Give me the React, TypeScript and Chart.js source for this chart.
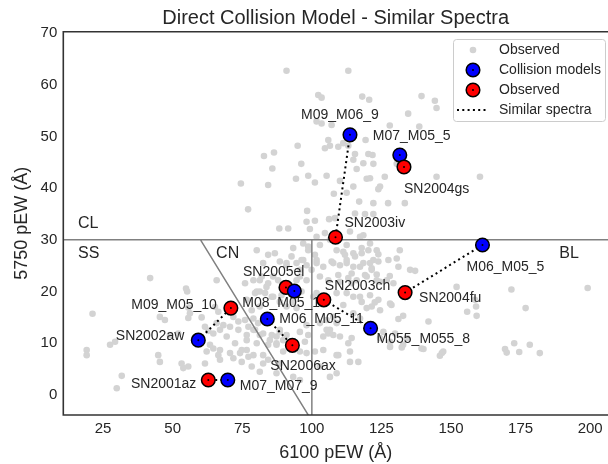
import { useEffect, useRef } from 'react';
import { Chart, registerables } from 'chart.js';

Chart.register(...registerables);

// ---- axes ----
const xTicks = [25, 50, 75, 100, 125, 150, 175, 200];
const yTicks = [0, 10, 20, 30, 40, 50, 60, 70];
const xRange = [10.7, 206.4];
const yRange = [-3.87, 70.25];

// ---- observed sample (6100 pEW, 5750 pEW) ----
const observedSample: [number, number][] = [
  [90.9, 62.7], [113.1, 62.7],
  [102.3, 58.0], [103.5, 57.5], [118.1, 57.7], [120.6, 57.1], [139.4, 57.8], [144.2, 56.9], [144.8, 55.5],
  [134.6, 54.4],
  [101.7, 52.9], [103.5, 52.5], [107.1, 52.2], [128.0, 52.1], [138.6, 51.9],
  [105.9, 49.3], [119.3, 49.3], [104.7, 47.7], [106.5, 48.2], [109.5, 48.0], [94.9, 48.2], [111.3, 48.7], [113.1, 48.2],
  [82.8, 46.2], [86.4, 46.9], [115.5, 46.6], [120.3, 46.6], [121.8, 46.4],
  [96.2, 44.7], [114.9, 45.5], [118.5, 44.8], [116.1, 43.7], [122.1, 44.7], [130.5, 44.7],
  [85.8, 43.8],
  [98.7, 42.4], [94.3, 41.8], [101.1, 41.1], [105.3, 42.4], [110.1, 41.4], [114.9, 40.3], [119.7, 41.8], [120.9, 41.9],
  [126.2, 42.2], [144.8, 42.2], [160.4, 42.2],
  [74.5, 40.9], [84.3, 40.6], [124.5, 40.3], [123.9, 39.8],
  [107.9, 38.9], [112.5, 39.1],
  [117.0, 37.4], [127.4, 37.1], [133.4, 37.1], [122.1, 37.1],
  [77.1, 35.9], [98.3, 35.6], [115.5, 35.1], [119.1, 35.0], [122.1, 35.0], [108.3, 34.2],
  [101.1, 33.7], [106.2, 34.0], [98.1, 33.5],
  [91.5, 32.2], [99.3, 32.1], [88.3, 32.2],
  [101.7, 30.6], [104.7, 31.3], [113.7, 31.6], [117.3, 30.6], [118.5, 30.9], [106.5, 30.0],
  [111.3, 27.7], [111.9, 27.1], [115.5, 26.8], [117.9, 27.4], [120.3, 28.0], [123.9, 27.2],
  [131.6, 28.0], [130.5, 26.4], [127.5, 26.1], [131.1, 24.8], [135.3, 24.2], [137.1, 24.0], [122.1, 26.1], [121.5, 24.2],
  [128.0, 23.0], [124.5, 21.9],
  [98.1, 25.1], [101.7, 25.5], [107.7, 25.5], [112.5, 25.5], [117.3, 24.8], [120.9, 25.5],
  [114.3, 23.5], [119.1, 23.2], [123.3, 23.3],
  [110.1, 21.9], [114.3, 21.6], [126.9, 22.2], [129.3, 21.6],
  [112.5, 19.7], [117.3, 19.0], [120.9, 19.3], [123.9, 18.4], [128.1, 17.7],
  [119.7, 16.8], [124.5, 16.4],
  [152.0, 20.9], [171.7, 20.4], [199.1, 20.7], [176.8, 16.8], [159.0, 17.1], [155.8, 16.1], [159.2, 15.3], [158.6, 18.4],
  [128.6, 17.4], [122.6, 17.9], [121.5, 17.1], [132.8, 15.3], [141.9, 14.2], [131.1, 14.7],
  [125.7, 12.2], [129.9, 11.9], [134.1, 11.0], [124.5, 11.0], [128.1, 10.3],
  [128.1, 9.3], [132.3, 9.2], [140.1, 8.9], [146.7, 8.1], [146.0, 7.6], [139.4, 9.0], [147.2, 8.4], [132.8, 9.7],
  [169.4, 8.9], [170.0, 8.2], [172.7, 10.0], [174.5, 8.3], [178.3, 9.7], [181.9, 8.1],
  [108.9, 13.9], [114.3, 11.0], [109.5, 7.7], [113.7, 6.4], [116.7, 6.4],
  [105.9, 11.9], [107.7, 11.6], [96.3, 20.0], [100.5, 19.0],
  [102.9, 29.0], [108.9, 28.0], [112.5, 29.0], [114.9, 27.4], [117.9, 28.4], [120.9, 29.3], [123.3, 28.0],
  [101.7, 26.1], [104.1, 24.8], [107.1, 25.8], [110.1, 25.1], [112.5, 26.1], [114.9, 24.8], [118.5, 25.5], [121.5, 24.5], [123.9, 25.8],
  [102.9, 22.9], [105.9, 22.2], [109.5, 23.2], [113.1, 22.6], [116.1, 22.2], [119.7, 22.9], [123.3, 22.2],
  [101.7, 19.7], [102.9, 18.0], [108.9, 19.7], [111.3, 17.4], [114.9, 19.0], [117.9, 18.0],
  [114.9, 15.8], [117.3, 14.8],
  [102.9, 13.9], [106.5, 12.6], [110.1, 11.3], [113.1, 10.0],
  [104.1, 8.7], [108.9, 7.7], [113.7, 8.4],
  [102.9, 5.5], [106.5, 3.5], [108.9, 4.2],
  [105.3, 14.5], [107.7, 15.1], [105.3, 12.6], [104.1, 11.3],
  [41.9, 22.6], [54.8, 20.6], [55.2, 20.0], [65.8, 22.2], [21.2, 15.7],
  [55.6, 16.9], [56.2, 15.8], [55.6, 14.9], [60.4, 15.0], [65.2, 17.0], [66.4, 16.1],
  [65.8, 13.9], [68.2, 13.5], [67.0, 12.6], [61.6, 13.2], [62.8, 12.4], [64.6, 11.9],
  [45.4, 15.1], [47.2, 14.5], [27.5, 9.7], [29.3, 10.3], [19.1, 8.7], [19.1, 7.7],
  [49.0, 11.6], [52.0, 11.9], [44.8, 7.7], [45.4, 6.4], [53.2, 6.1], [53.8, 5.2], [55.6, 5.5],
  [63.4, 9.7], [64.6, 9.0], [62.2, 8.4], [66.4, 7.7], [67.0, 6.8],
  [31.7, 3.7], [29.9, 1.3],
  [61.6, 6.1], [74.8, 6.4], [78.4, 5.5],
  [71.8, 7.1], [74.2, 8.1], [76.6, 8.7], [79.0, 7.7], [82.5, 7.7], [84.3, 6.8],
  [76.6, 11.6], [79.0, 12.6], [81.3, 11.6], [84.9, 10.6], [87.3, 11.3], [88.5, 12.2], [90.9, 11.6], [87.3, 9.7],
  [71.8, 15.1], [73.6, 14.2], [76.0, 14.5], [77.2, 13.2], [79.0, 14.8], [80.7, 13.9],
  [81.3, 20.0], [83.7, 20.9], [85.6, 19.0], [88.5, 18.0], [89.1, 19.3], [90.9, 17.1], [93.3, 18.0], [94.5, 16.8],
  [76.0, 21.6], [79.0, 22.2], [79.6, 19.7], [82.0, 22.9], [86.1, 22.9],
  [93.3, 28.4], [90.9, 25.5], [96.3, 26.1], [98.7, 28.7], [101.1, 27.1], [95.7, 24.2], [94.5, 22.2],
  [95.7, 12.2], [98.1, 13.5], [98.7, 11.6], [97.5, 10.3], [95.7, 8.4], [98.1, 8.1], [101.1, 8.4],
  [81.3, 4.5], [82.5, 6.1], [87.3, 4.2], [88.5, 6.1],
  [93.3, 3.5], [95.7, 2.9],
  [80.2, 28.0], [82.5, 25.5], [84.3, 27.1], [86.7, 27.4], [88.5, 25.8], [90.9, 25.1], [92.7, 26.8], [94.5, 25.5], [96.9, 26.1],
  [96.9, 29.3], [98.7, 28.0], [95.7, 22.9], [98.1, 22.2], [99.9, 24.2],
  [81.3, 22.2], [84.3, 21.6], [87.9, 22.2], [80.2, 20.0], [83.2, 19.7], [86.1, 19.0],
  [76.6, 18.4], [78.4, 16.4], [81.3, 17.1],
  [79.6, 12.6], [82.5, 11.9], [85.6, 11.6], [88.5, 12.6],
  [70.6, 13.2], [73.6, 12.6], [69.4, 11.3], [72.4, 10.0], [67.0, 8.7], [70.6, 8.1], [74.8, 8.7], [77.2, 7.4],
  [76.6, 10.6], [80.2, 10.0], [84.3, 9.7], [87.3, 10.0], [89.7, 10.6], [89.7, 8.4],
];

// ---- collision models and their most similar observed spectra (pair i <-> i) ----
const modelNames = ['M09_M06_9', 'M07_M05_5', 'M06_M05_5', 'M055_M055_8', 'M06_M05_11', 'M08_M05_15', 'M07_M07_9', 'SN2002aw'];
const modelX = [113.7, 131.6, 161.3, 121.1, 84.0, 93.7, 69.8, 59.2];
const modelY = [50.3, 46.4, 29.0, 12.9, 14.7, 20.1, 2.9, 10.6];

const matchNames = ['SN2003iv', 'SN2004gs', 'SN2004fu', 'SN2003ch', 'SN2006ax', 'SN2005el', 'SN2001az', 'M09_M05_10'];
const matchX = [108.5, 133.1, 133.5, 104.3, 93.0, 90.7, 62.8, 70.9];
const matchY = [30.5, 44.1, 19.8, 18.4, 9.6, 20.8, 2.9, 16.8];

// observed markers that sit beneath their model partner
const matchDrawnBelow = ['SN2005el'];

// ---- Branch classification boundaries ----
const boundaryX = [xRange[0], xRange[1], NaN, 100, 100, NaN, 60, 100];
const boundaryY = [30, 30, NaN, -5, 30, NaN, 30, -5];

const regionNames = ['CL', 'SS', 'CN', 'BL'];
const regionX = [16.0, 16.0, 65.6, 188.9];
const regionY = [33.1, 27.4, 27.4, 27.4];

// ---- styling ----
const FONT = "'Liberation Sans', Arial, Helvetica, sans-serif";
const TEXT = '#262626';
const SPINE = '#333333';
const GRAY_PT = '#d3d3d3';
const BLUE = '#0000ff';
const RED = '#ff0000';

// label placement: [dx, dy, align] in px relative to the marker centre
const labelPlacement: Record<string, [number, number, CanvasTextAlign]> = {
  M09_M06_9: [-49, -20, 'left'],
  M07_M05_5: [-27, -19, 'left'],
  SN2004gs: [0, 22, 'left'],
  SN2003iv: [9, -14, 'left'],
  M06_M05_5: [-16, 22, 'left'],
  SN2004fu: [14, 6, 'left'],
  SN2003ch: [1, -14, 'left'],
  M055_M055_8: [6, 11, 'left'],
  M06_M05_11: [12, 0, 'left'],
  M08_M05_15: [-52, 12, 'left'],
  SN2005el: [-43, -15, 'left'],
  M09_M05_10: [-14, -3, 'right'],
  SN2002aw: [-14, -4, 'right'],
  SN2006ax: [-22, 21, 'left'],
  SN2001az: [-12, 4, 'right'],
  M07_M07_9: [12, 6, 'left'],
};

type Mark = { x: number; y: number; name: string; color: string };

function buildMarks(): Mark[] {
  const out: Mark[] = [];
  modelNames.forEach((name, i) => {
    const m: Mark = { x: modelX[i], y: modelY[i], name, color: BLUE };
    const o: Mark = { x: matchX[i], y: matchY[i], name: matchNames[i], color: RED };
    if (matchDrawnBelow.includes(matchNames[i])) out.push(o, m);
    else out.push(m, o);
  });
  return out;
}

function buildSegments() {
  const pts: { x: number; y: number | null }[] = [];
  modelNames.forEach((_, i) => {
    pts.push({ x: modelX[i], y: modelY[i] });
    pts.push({ x: matchX[i], y: matchY[i] });
    pts.push({ x: matchX[i], y: null });
  });
  return pts;
}

export default function App() {
  const canvasRef = useRef<HTMLCanvasElement>(null);

  useEffect(() => {
    const canvas = canvasRef.current;
    if (!canvas) return;
    const marks = buildMarks();

    const textPlugin = {
      id: 'textLayer',
      afterDatasetDraw(chart: any, args: any) {
        if (chart.data.datasets[args.index].label !== 'Similar spectra') return;
        const { ctx, scales } = chart;
        const xs = scales.x;
        const ys = scales.y;
        ctx.save();
        ctx.fillStyle = TEXT;
        ctx.textBaseline = 'middle';
        ctx.font = `14px ${FONT}`;
        marks.forEach((m) => {
          const p = labelPlacement[m.name];
          if (!p) return;
          ctx.textAlign = p[2];
          ctx.fillText(m.name, xs.getPixelForValue(m.x) + p[0], ys.getPixelForValue(m.y) + p[1]);
        });
        ctx.font = `16px ${FONT}`;
        ctx.textAlign = 'left';
        regionNames.forEach((r, i) => {
          ctx.fillText(r, xs.getPixelForValue(regionX[i]), ys.getPixelForValue(regionY[i]));
        });
        ctx.restore();
      },
    };

    const framePlugin = {
      id: 'frameLegendTitle',
      afterDraw(chart: any) {
        const { ctx, chartArea } = chart;
        const { left, top, right, bottom } = chartArea;
        ctx.save();
        // axes frame (left, top, bottom)
        ctx.strokeStyle = SPINE;
        ctx.lineWidth = 1.6;
        ctx.beginPath();
        ctx.moveTo(right + 2, top);
        ctx.lineTo(left, top);
        ctx.lineTo(left, bottom);
        ctx.lineTo(right + 2, bottom);
        ctx.stroke();

        // title
        ctx.fillStyle = TEXT;
        ctx.font = `20px ${FONT}`;
        ctx.textAlign = 'center';
        ctx.textBaseline = 'middle';
        ctx.fillText('Direct Collision Model - Similar Spectra', (left + right) / 2, 18);

        // legend
        const bx = 453.5, by = 39.5, bw = 152, bh = 82;
        ctx.beginPath();
        const r = 3;
        ctx.moveTo(bx + r, by);
        ctx.arcTo(bx + bw, by, bx + bw, by + bh, r);
        ctx.arcTo(bx + bw, by + bh, bx, by + bh, r);
        ctx.arcTo(bx, by + bh, bx, by, r);
        ctx.arcTo(bx, by, bx + bw, by, r);
        ctx.closePath();
        ctx.fillStyle = 'rgba(255,255,255,0.85)';
        ctx.fill();
        ctx.strokeStyle = '#cccccc';
        ctx.lineWidth = 1;
        ctx.stroke();

        const mx = 473;
        const tx = 499;
        const rows = [50, 70, 90, 110];
        ctx.fillStyle = GRAY_PT;
        ctx.beginPath();
        ctx.arc(mx, rows[0], 3.3, 0, Math.PI * 2);
        ctx.fill();
        [BLUE, RED].forEach((c, k) => {
          ctx.beginPath();
          ctx.arc(mx, rows[k + 1], 6.8, 0, Math.PI * 2);
          ctx.fillStyle = c;
          ctx.fill();
          ctx.strokeStyle = '#000';
          ctx.lineWidth = 1.5;
          ctx.stroke();
          ctx.beginPath();
          ctx.arc(mx, rows[k + 1], 1, 0, Math.PI * 2);
          ctx.fillStyle = '#000';
          ctx.fill();
        });
        ctx.strokeStyle = '#000';
        ctx.lineWidth = 2;
        ctx.setLineDash([2, 3.3]);
        ctx.beginPath();
        ctx.moveTo(457, rows[3]);
        ctx.lineTo(488, rows[3]);
        ctx.stroke();
        ctx.setLineDash([]);

        ctx.fillStyle = TEXT;
        ctx.font = `14px ${FONT}`;
        ctx.textAlign = 'left';
        ctx.textBaseline = 'middle';
        ['Observed', 'Collision models', 'Observed', 'Similar spectra'].forEach((t, k) => {
          ctx.fillText(t, tx, rows[k]);
        });
        ctx.restore();
      },
    };

    const chart = new Chart(canvas, {
      type: 'scatter',
      data: {
        datasets: [
          {
            label: 'centres',
            data: marks.map((m) => ({ x: m.x, y: m.y })),
            pointRadius: 1,
            pointBackgroundColor: '#000',
            pointBorderWidth: 0,
            order: 0,
          },
          {
            label: 'markers',
            data: marks.map((m) => ({ x: m.x, y: m.y })),
            pointRadius: 6.8,
            pointBackgroundColor: marks.map((m) => m.color),
            pointBorderColor: '#000',
            pointBorderWidth: 1.5,
            order: 1,
          },
          {
            type: 'line',
            label: 'Similar spectra',
            data: buildSegments() as any,
            borderColor: '#000',
            borderWidth: 2,
            borderDash: [2, 3.3],
            pointRadius: 0,
            spanGaps: false,
            fill: false,
            order: 2,
          },
          {
            type: 'line',
            label: 'boundaries',
            data: boundaryX.map((x, i) => ({ x, y: Number.isNaN(boundaryY[i]) ? null : boundaryY[i] })) as any,
            borderColor: '#808080',
            borderWidth: 1.5,
            pointRadius: 0,
            spanGaps: false,
            fill: false,
            order: 3,
          },
          {
            label: 'Observed',
            data: observedSample.map(([x, y]) => ({ x, y })),
            pointRadius: 3.3,
            pointBackgroundColor: GRAY_PT,
            pointBorderWidth: 0,
            order: 4,
          },
        ],
      },
      options: {
        animation: false,
        responsive: false,
        devicePixelRatio: 1,
        layout: { autoPadding: false, padding: { top: 31.7, left: 0, right: 0, bottom: 0 } },
        plugins: {
          legend: { display: false },
          title: { display: false },
          tooltip: { enabled: false },
        },
        scales: {
          x: {
            type: 'linear',
            min: xRange[0],
            max: xRange[1],
            afterBuildTicks: (s: any) => {
              s.ticks = xTicks.map((v) => ({ value: v }));
            },
            afterFit: (s: any) => {
              s.height = 49;
              s.paddingLeft = 0;
              s.paddingRight = 0;
            },
            grid: { display: false, drawTicks: false },
            border: { display: false },
            ticks: { padding: 5, color: TEXT, font: { family: FONT, size: 15 }, maxRotation: 0, autoSkip: false },
            title: {
              display: true,
              text: '6100 pEW (Å)',
              color: TEXT,
              font: { family: FONT, size: 18 },
              padding: { top: 0, bottom: 0 },
            },
          },
          y: {
            type: 'linear',
            min: yRange[0],
            max: yRange[1],
            afterBuildTicks: (s: any) => {
              s.ticks = yTicks.map((v) => ({ value: v }));
            },
            afterFit: (s: any) => {
              s.width = 63.3;
              s.paddingTop = 0;
              s.paddingBottom = 0;
            },
            grid: { display: false, drawTicks: false },
            border: { display: false },
            ticks: { padding: 6, color: TEXT, font: { family: FONT, size: 15 }, autoSkip: false },
            title: {
              display: true,
              text: '5750 pEW (Å)',
              color: TEXT,
              font: { family: FONT, size: 18 },
              padding: { top: 11, bottom: 0 },
            },
          },
        },
      },
      plugins: [textPlugin, framePlugin],
    } as any);

    return () => chart.destroy();
  }, []);

  return (
    <div style={{ position: 'fixed', left: 0, top: 0, width: 608, height: 464, background: '#ffffff', overflow: 'hidden' }}>
      <canvas ref={canvasRef} width={608} height={464} style={{ width: 608, height: 464, display: 'block' }} />
    </div>
  );
}
